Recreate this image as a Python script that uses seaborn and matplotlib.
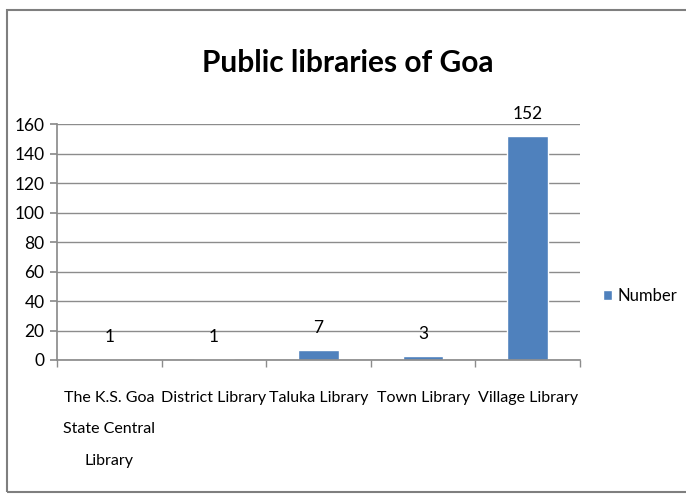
import matplotlib
matplotlib.use("Agg")
import matplotlib.pyplot as plt
import seaborn as sns
import pandas as pd
from matplotlib.patches import Rectangle

categories = ["The K.S. Goa\nState Central\nLibrary", "District Library", "Taluka Library", "Town Library", "Village Library"]
values = [1, 1, 7, 3, 152]
series_name = "Number"
yticks = [0, 20, 40, 60, 80, 100, 120, 140, 160]

sns.set_theme(style="white")
plt.rcParams['font.family'] = ['Lato', 'DejaVu Sans']
plt.rcParams['text.color'] = 'black'
plt.rcParams['xtick.color'] = 'black'
plt.rcParams['ytick.color'] = 'black'

df = pd.DataFrame({"cat": categories, "val": values, "series": series_name})

fig = plt.figure(figsize=(6.86, 4.95), dpi=100)
ax = fig.add_axes([57/686, 1-360/495, (580-57)/686, (360-124)/495])

bar_color = "#4F81BD"
sns.barplot(data=df, x="cat", y="val", hue="series", palette=[bar_color], width=0.39, ax=ax, legend=True, saturation=1)

fs = 11.5
ax.set_ylim(0, 160)
ax.set_xlim(-0.5, 4.5)
ax.set_yticks(yticks)
ax.set_yticklabels([str(t) for t in yticks], fontsize=fs + 1)
ax.set_xlabel("")
ax.set_ylabel("")
ax.yaxis.grid(True, color="#8c8c8c", linewidth=1)
ax.set_axisbelow(True)
for s in ["top", "right"]:
    ax.spines[s].set_visible(False)
ax.spines["left"].set_color("#8c8c8c")
ax.spines["bottom"].set_color("#8c8c8c")
ax.tick_params(axis="y", which="major", length=5, color="#8c8c8c", labelcolor="black", direction="out", left=True, pad=4)
ax.set_xticks(range(len(categories)))
ax.set_xticklabels(categories, fontsize=fs, linespacing=2.6, va="top")
ax.set_xticks([i - 0.5 for i in range(len(categories) + 1)], minor=True)
ax.tick_params(axis="x", which="major", length=0, pad=22, labelcolor="black")
ax.tick_params(axis="x", which="minor", length=5, color="#8c8c8c", direction="out", bottom=True)

for i, v in enumerate(values):
    ax.annotate(str(v), (i, v), xytext=(0, 10), textcoords="offset points",
                ha="center", va="bottom", fontsize=fs + 1)

handles, labels = ax.get_legend_handles_labels()
ax.legend(handles, labels, loc="center left", bbox_to_anchor=(1.015, 0.27), frameon=False,
          fontsize=fs + 0.5, handlelength=0.55, handleheight=0.55, handletextpad=0.3)

fig.text(348/686, 1-63/495, "Public libraries of Goa", ha="center", va="center",
         fontsize=21.5, fontweight="bold")

fig.patches.append(Rectangle((7/686, 3/495), 1.2, 1-13/495, transform=fig.transFigure,
                             fill=False, edgecolor="#7f7f7f", linewidth=1.5))

fig.savefig("out.png", dpi=100)
